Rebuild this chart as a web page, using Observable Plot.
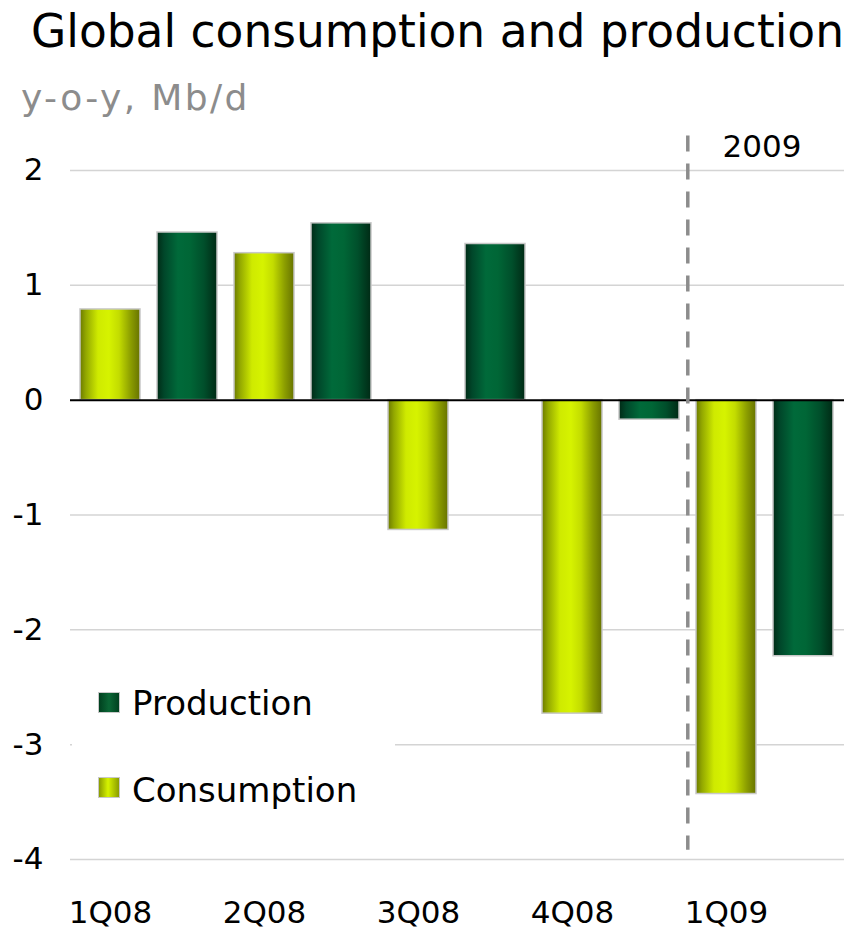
<!DOCTYPE html>
<html>
<head>
<meta charset="utf-8">
<script src="https://cdn.jsdelivr.net/npm/d3@7"></script>
<script src="https://cdn.jsdelivr.net/npm/@observablehq/plot@0.6"></script>
<style>
  body { margin: 0; background: #fff; }
  #wrap { position: relative; width: 862px; height: 933px; overflow: hidden; font-family: "DejaVu Sans", sans-serif; background:#fff; }
  #header { position: relative; height: 125px; }
  .title { position: absolute; left: 31px; top: 9px; font-size: 45.5px; line-height: 1; color: #000; white-space: nowrap; }
  .subtitle { position: absolute; left: 21px; top: 80px; font-size: 36px; line-height: 1; color: #8c8c8c; letter-spacing: 2.4px; white-space: nowrap; }
  #legend { position: absolute; left: 72px; top: 655px; width: 323px; height: 175px; background: #fff; z-index: 2; }
  .sw { position: absolute; left: 26px; width: 20px; height: 19px; border: 1px solid #c8c8c8; }
  .lab { position: absolute; left: 60px; font-size: 34px; line-height: 1; color: #000; white-space: nowrap; }
  #chart svg { display: block; }
</style>
</head>
<body>
<div id="wrap">
  <div id="header">
    <div class="title">Global consumption and production</div>
    <div class="subtitle">y-o-y, Mb/d</div>
  </div>
  <div id="chart"></div>
  <div id="legend"></div>
</div>
<script>
// ---- data ----
const quarters = ["1Q08", "2Q08", "3Q08", "4Q08", "1Q09"];
const consumption = [0.79, 1.28, -1.13, -2.73, -3.43];
const production = [1.46, 1.54, 1.36, -0.17, -2.23];
const yTicks = [-4, -3, -2, -1, 0, 1, 2];
const seriesNames = ["Production", "Consumption"];
const dividerAt = "1Q09";
const dividerLabel = "2009";
const dividerSpan = [2.3, -3.92];
const dividerLabelY = 2.12;

// ---- layout ----
const W = 862, H = 808;
const mLeft = 70, mRight = 18, mTop = 45, mBottom = 74;
const step = (W - mLeft - mRight) / (quarters.length * 2);

const slots = [];
quarters.forEach(q => { slots.push(q + "|C"); slots.push(q + "|P"); });
const consRows = quarters.map((q, i) => ({slot: q + "|C", value: consumption[i]}));
const prodRows = quarters.map((q, i) => ({slot: q + "|P", value: production[i]}));

const chart = Plot.plot({
  width: W,
  height: H,
  marginLeft: mLeft,
  marginRight: mRight,
  marginTop: mTop,
  marginBottom: mBottom,
  style: { fontFamily: "DejaVu Sans, sans-serif", fontSize: "31px", color: "#000", background: "#fff" },
  x: { domain: slots, paddingInner: 0.22, paddingOuter: 0.11, tickSize: 0, tickPadding: 41,
       tickFormat: d => d.endsWith("|C") ? d.split("|")[0] : "", label: null },
  y: { domain: [-4, 2], ticks: yTicks, tickSize: 0, tickPadding: 27, tickFormat: d => String(d), label: null },
  marks: [
    Plot.ruleY(yTicks.filter(t => t !== 0), { stroke: "#d4d4d4", strokeWidth: 1.5 }),
    Plot.barY(consRows, { x: "slot", y: "value", fill: "url(#gradCons)", stroke: "#c8c8c8", strokeWidth: 1.5 }),
    Plot.barY(prodRows, { x: "slot", y: "value", fill: "url(#gradProd)", stroke: "#c8c8c8", strokeWidth: 1.5 }),
    Plot.ruleY([0], { stroke: "#000", strokeWidth: 2 }),
    Plot.ruleX([dividerAt + "|C"], { x: d => d, y1: dividerSpan[0], y2: dividerSpan[1], dx: -step / 2,
      stroke: "#8c8c8c", strokeWidth: 3.5, strokeDasharray: "16,12" }),
    Plot.text([dividerLabel], { x: () => dividerAt + "|C", y: dividerLabelY, text: d => d,
      textAnchor: "start", lineAnchor: "bottom", dx: -4, fontSize: 31, fill: "#000" })
  ]
});

// gradients for cylinder-like shading
const svg = d3.select(chart);
const defs = svg.insert("defs", ":first-child");
function grad(id, stops) {
  const g = defs.append("linearGradient").attr("id", id).attr("x1", "0").attr("x2", "1").attr("y1", "0").attr("y2", "0");
  stops.forEach(([o, c]) => g.append("stop").attr("offset", o).attr("stop-color", c));
}
grad("gradCons", [["0%", "#6c7a00"], ["10%", "#93a800"], ["30%", "#cfea00"], ["48%", "#d6f300"], ["65%", "#c3dc00"], ["85%", "#8a9c00"], ["100%", "#677300"]]);
grad("gradProd", [["0%", "#002b16"], ["12%", "#00472a"], ["35%", "#006a3a"], ["55%", "#006636"], ["78%", "#004f2b"], ["100%", "#002a15"]]);

document.getElementById("chart").appendChild(chart);

// legend
const legend = document.getElementById("legend");
const swatches = [
  { name: seriesNames[0], bg: "linear-gradient(90deg,#00401f,#0a6635 50%,#00401f)", top: 37, labTop: 31 },
  { name: seriesNames[1], bg: "linear-gradient(90deg,#8a9c00,#d6f300 45%,#8a9c00)", top: 122, labTop: 118 }
];
swatches.forEach(s => {
  const sw = document.createElement("div");
  sw.className = "sw"; sw.style.top = s.top + "px"; sw.style.background = s.bg;
  legend.appendChild(sw);
  const lab = document.createElement("div");
  lab.className = "lab"; lab.style.top = s.labTop + "px"; lab.textContent = s.name;
  legend.appendChild(lab);
});
</script>
</body>
</html>
